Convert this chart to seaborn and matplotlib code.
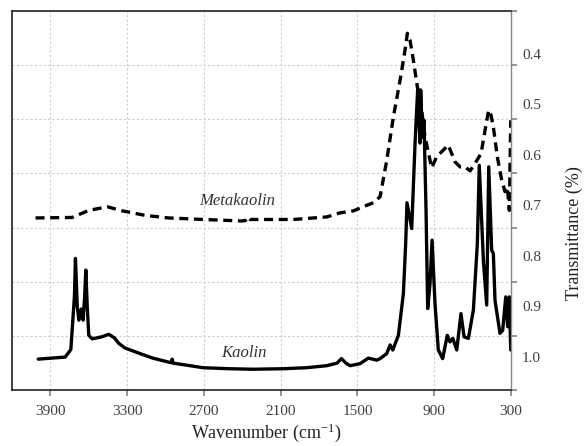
import matplotlib
matplotlib.use("Agg")
import matplotlib.pyplot as plt
import numpy as np
import pandas as pd
import seaborn as sns

# kaolin spectrum (wavenumber, transmittance)
kaolin_wn = [3995, 3784, 3740, 3712, 3704, 3690, 3677, 3659, 3644, 3632, 3623, 3612,
             3600, 3573, 3500, 3443, 3400, 3365, 3317, 3200, 3100, 2975, 2955, 2948,
             2940, 2886, 2706, 2500, 2316, 2081, 1900, 1740, 1660, 1625, 1590, 1558,
             1480, 1415, 1349, 1323, 1271, 1245, 1224, 1180, 1141, 1123, 1113, 1076,
             1050, 1029, 1011, 1006, 993, 980, 964, 954, 951, 933, 917, 894, 868, 834,
             798, 777, 755, 724, 691, 667, 633, 594, 563, 548, 516, 490, 474, 451, 438,
             425, 386, 365, 341, 326, 313, 302]
kaolin_t = [1.004, 1.000, 0.985, 0.880, 0.805, 0.900, 0.927, 0.905, 0.927, 0.880, 0.828, 0.900,
            0.957, 0.964, 0.960, 0.955, 0.962, 0.973, 0.982, 0.993, 1.002, 1.010, 1.011, 1.004,
            1.012, 1.014, 1.021, 1.023, 1.024, 1.023, 1.021, 1.017, 1.012, 1.003, 1.012, 1.017,
            1.013, 1.002, 1.006, 1.003, 0.993, 0.976, 0.986, 0.957, 0.874, 0.775, 0.695, 0.746,
            0.578, 0.469, 0.577, 0.472, 0.565, 0.532, 0.710, 0.861, 0.904, 0.855, 0.769, 0.894, 0.986, 1.003,
            0.957, 0.970, 0.963, 0.986, 0.914, 0.960, 0.963, 0.907, 0.775, 0.621, 0.808, 0.897, 0.624, 0.789, 0.795,
            0.888, 0.953, 0.947, 0.881, 0.940, 0.881, 0.986]

# metakaolin spectrum
meta_wn = [4016, 3730, 3600, 3454, 3337, 3157, 2975, 2704, 2404, 2375, 2360, 2340,
           2300, 2001, 1740, 1636, 1532, 1427, 1376, 1323, 1271, 1219, 1167, 1128,
           1110, 1089, 1063, 1032, 998, 972, 920, 881, 790, 738, 698, 659, 620, 581,
           534, 503, 477, 464, 438, 407, 373, 347, 329, 313, 302]
meta_t = [0.725, 0.724, 0.710, 0.703, 0.711, 0.720, 0.725, 0.728, 0.731, 0.730, 0.723, 0.728,
          0.728, 0.728, 0.723, 0.715, 0.711, 0.700, 0.695, 0.683, 0.611, 0.525, 0.453, 0.393,
          0.360, 0.374, 0.413, 0.466, 0.512, 0.565, 0.626, 0.604, 0.581, 0.614, 0.624, 0.624, 0.632, 0.617,
          0.598, 0.552, 0.515, 0.512, 0.545, 0.604, 0.650, 0.673, 0.664, 0.710, 0.532]

x_ticks = [3900, 3300, 2700, 2100, 1500, 900, 300]
y_labels = [0.4, 0.5, 0.6, 0.7, 0.8, 0.9, 1.0]

df = pd.concat([
    pd.DataFrame({"wn": kaolin_wn, "t": kaolin_t, "sample": "Kaolin"}),
    pd.DataFrame({"wn": meta_wn, "t": meta_t, "sample": "Metakaolin"}),
])

sns.set_theme(style="ticks")
plt.rcParams["font.family"] = ["Liberation Serif", "DejaVu Serif"]
plt.rcParams["mathtext.default"] = "regular"

fig = plt.figure(figsize=(5.85, 4.46), dpi=100)
ax = fig.add_axes([0.0205, 0.1256, 0.853, 0.8497])

sns.lineplot(data=df, x="wn", y="t", hue="sample", style="sample",
             palette={"Kaolin": "black", "Metakaolin": "black"},
             dashes={"Kaolin": "", "Metakaolin": (2.7, 1.7)},
             sort=False, estimator=None, linewidth=2.4, legend=False, ax=ax)

ax.set_xlim(4200, 300)
ax.set_ylim(1.065, 0.316)

ax.set_xticks(x_ticks)
ax.set_xticklabels([str(v) for v in x_ticks])

# gridlines / tick marks split the axis in 7, labels sit on their own scale
ax.yaxis.tick_right()
ax.set_yticks(np.linspace(0.316, 1.065, 8))
ax.set_yticks(y_labels, minor=True)
ax.set_yticklabels([f"{v:.1f}" for v in y_labels], minor=True)
ax.tick_params(axis="y", which="major", labelright=False, length=4, color="#888888", direction="out")
ax.tick_params(axis="y", which="minor", length=0, pad=8, labelsize=11, labelcolor="#404040")
ax.tick_params(axis="x", length=4, color="#888888", pad=7, labelsize=11, labelcolor="#404040")

ax.grid(True, which="major", color="#cccccc", linestyle=(0, (2, 2)), linewidth=0.8)

for s in ["left", "top", "bottom"]:
    ax.spines[s].set_color("#222222")
    ax.spines[s].set_linewidth(1.2)
ax.spines["right"].set_color("#888888")
ax.spines["right"].set_linewidth(1.0)

ax.set_xlabel("Wavenumber (cm$^{-1}$)", fontsize=13, color="#222222")
ax.set_ylabel("Transmittance (%)", fontsize=13, color="#222222", rotation=90)
ax.yaxis.set_label_position("right")
ax.yaxis.set_label_coords(1.11, 0.414)
ax.xaxis.set_label_coords(0.51, -0.082)

ax.text(2443, 0.692, "Metakaolin", style="italic", fontsize=12, color="#333333", ha="center", va="center")
ax.text(2391, 0.991, "Kaolin", style="italic", fontsize=12, color="#333333", ha="center", va="center")

fig.savefig("out.png", dpi=100)
